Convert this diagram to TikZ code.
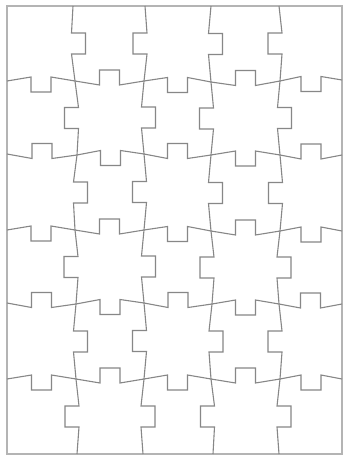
\documentclass[tikz,border=0pt]{standalone}
\definecolor{linec}{RGB}{135,135,135}
\definecolor{framec}{RGB}{180,180,180}
\tikzset{pz/.style={draw=linec,line width=1.1pt,line join=miter},
 pzframe/.style={draw=framec,line width=1.6pt}}
\newcommand\pzh[5]{%
 \pgfmathsetmacro\mx{(#1+#3)/2}%
 \pgfmathsetmacro\my{(#2+#4)/2-#5*4}%
 \pgfmathsetmacro\ty{\my+#5*15}%
 \draw[pz] (#1,#2) -- (\mx-10,\my) -- (\mx-10,\ty) -- (\mx+10,\ty) -- (\mx+10,\my) -- (#3,#4);}
\newcommand\pzv[5]{%
 \pgfmathsetmacro\my{(#2+#4)/2}%
 \pgfmathsetmacro\mx{(#1+#3)/2-#5*2.5}%
 \pgfmathsetmacro\tx{\mx+#5*14}%
 \draw[pz] (#1,#2) -- (\mx,\my-10.5) -- (\tx,\my-10.5) -- (\tx,\my+10.5) -- (\mx,\my+10.5) -- (#3,#4);}
\begin{document}
\begin{tikzpicture}[x=1pt,y=-1pt]
\useasboundingbox[fill=white] (0,0) rectangle (347,457);
\draw[pzframe] (7,6) rectangle (342,454);
% horizontal H1
\pzh{7}{81}{75}{81}{1}
\pzh{75}{81}{144}{81}{-1}
\pzh{144}{81}{211}{82}{1}
\pzh{211}{82}{280}{81}{-1}
\pzh{280}{81}{342}{80}{1}
% H2
\pzh{7}{154}{77}{155}{-1}
\pzh{77}{155}{144}{154}{1}
\pzh{144}{154}{211}{155}{-1}
\pzh{211}{155}{280}{155}{1}
\pzh{280}{155}{342}{155}{-1}
% H3
\pzh{7}{230}{75}{230}{1}
\pzh{75}{230}{144}{230}{-1}
\pzh{144}{230}{211}{231}{1}
\pzh{211}{231}{280}{231}{-1}
\pzh{280}{231}{342}{231}{1}
% H4
\pzh{7}{303}{76}{304}{-1}
\pzh{76}{304}{144}{303}{1}
\pzh{144}{303}{212}{304}{-1}
\pzh{212}{304}{279}{304}{1}
\pzh{279}{304}{342}{304}{-1}
% H5
\pzh{7}{379}{76}{379}{1}
\pzh{76}{379}{144}{379}{-1}
\pzh{144}{379}{211}{379}{1}
\pzh{211}{379}{280}{379}{-1}
\pzh{280}{379}{342}{379}{1}
% V1
\pzv{73}{6}{75}{81}{1}
\pzv{75}{81}{77}{155}{-1}
\pzv{77}{155}{75}{230}{1}
\pzv{75}{230}{76}{304}{-1}
\pzv{76}{304}{76}{379}{1}
\pzv{76}{379}{77}{454}{-1}
% V2
\pzv{145}{6}{144}{81}{-1}
\pzv{144}{81}{144}{154}{1}
\pzv{144}{154}{144}{230}{-1}
\pzv{144}{230}{144}{303}{1}
\pzv{144}{303}{144}{379}{-1}
\pzv{144}{379}{143}{454}{1}
% V3
\pzv{211}{6}{211}{82}{1}
\pzv{211}{82}{211}{155}{-1}
\pzv{211}{155}{211}{231}{1}
\pzv{211}{231}{212}{304}{-1}
\pzv{212}{304}{211}{379}{1}
\pzv{211}{379}{213}{454}{-1}
% V4
\pzv{279}{6}{280}{81}{-1}
\pzv{280}{81}{280}{155}{1}
\pzv{280}{155}{280}{231}{-1}
\pzv{280}{231}{279}{304}{1}
\pzv{279}{304}{280}{379}{-1}
\pzv{280}{379}{279}{454}{1}
\end{tikzpicture}
\end{document}
